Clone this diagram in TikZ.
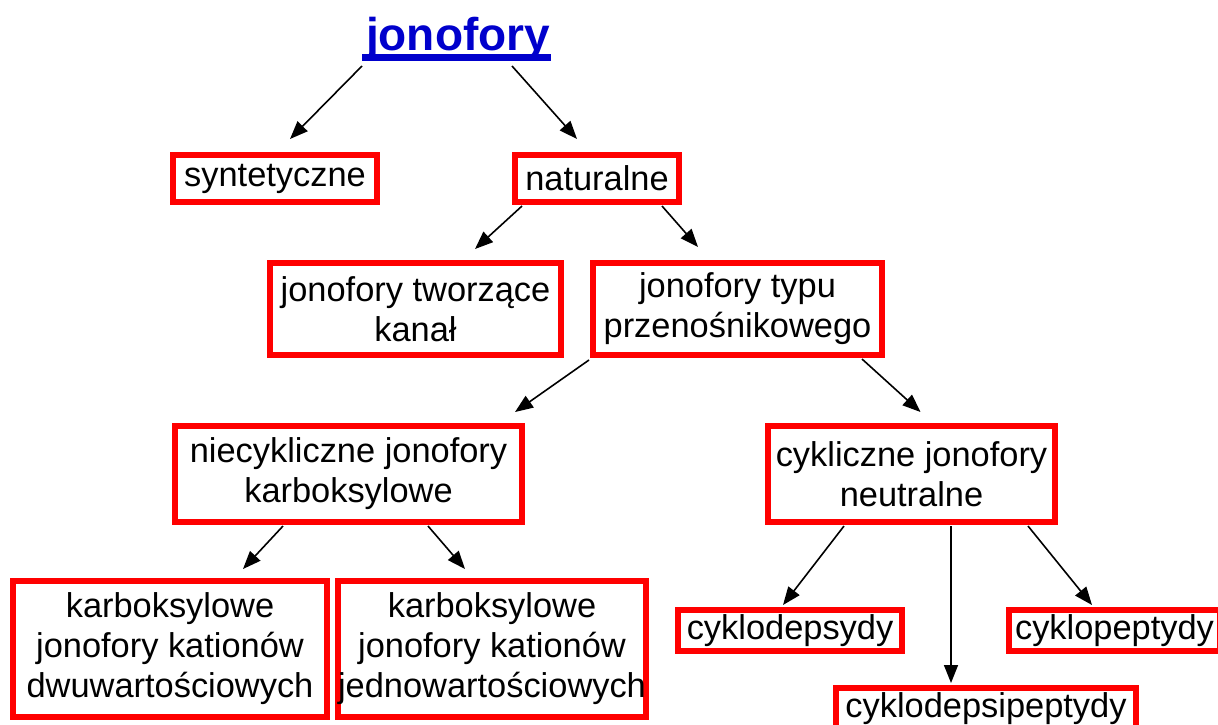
\documentclass[tikz,border=0pt]{standalone}
\usepackage{fontspec}
\setmainfont{Liberation Sans}
\usepackage{xcolor}
\usepackage{tikz}
\usetikzlibrary{arrows.meta,calc}
\definecolor{jonoblue}{RGB}{0,0,204}
\definecolor{jonored}{RGB}{255,0,0}

\begin{document}
\begin{tikzpicture}[x=0.5pt,y=-0.5pt,
    box/.style={draw=jonored,line width=3pt,fill=white,inner sep=0pt,align=center,
        font=\fontsize{17.2}{20}\selectfont},
    arr/.style={-{Triangle[length=9pt,width=7pt]},line width=0.8pt}]
        \useasboundingbox (0,0) rectangle (1218,724);

        % Title
        \node[inner sep=0pt,anchor=base,text=jonoblue,font=\fontsize{23}{27}\selectfont\bfseries] (title) at (458,50) {jonofory};
        \fill[jonoblue] ($(title.base west)+(-4,4)$) rectangle ($(title.base east)+(1,11)$);

        % Level 1
        \node[box,minimum width=102pt,minimum height=23.5pt] (synt) at (275,178.5) {syntetyczne};
        \node[box,minimum width=82pt,minimum height=23.5pt] (nat) at (597,178.5) {naturalne};

        % Level 2
        \node[box,minimum width=145.5pt,minimum height=46pt] (kanal) at (415.5,309) {jonofory tworzące\\kanał};
        \node[box,minimum width=144.5pt,minimum height=46pt] (typu) at (737.5,309) {jonofory typu\\przenośnikowego};

        % Level 3
        \node[box,minimum width=173.5pt,minimum height=48pt] (niecykl) at (348.5,474) {niecykliczne jonofory\\karboksylowe};
        \node[box,minimum width=143.5pt,minimum height=48pt] (cykl) at (911.5,474) {cykliczne jonofory\\neutralne};

        % Level 4
        \node[box,minimum width=157pt,minimum height=68pt] (dwu) at (170,649) {karboksylowe\\jonofory kationów\\dwuwartościowych};
        \node[box,minimum width=153pt,minimum height=68pt] (jedno) at (492,649) {karboksylowe\\jonofory kationów\\jednowartościowych};
        \node[box,minimum width=112pt,minimum height=20.5pt] (cdeps) at (790,630.5) {cyklodepsydy};
        \node[box,minimum width=105.5pt,minimum height=20.5pt] (cpept) at (1114.5,630.5) {cyklopeptydy};
        \node[box,minimum width=150pt,minimum height=21pt] (cdpept) at (986,709) {cyklodepsipeptydy};

        % Arrows
        \coordinate (cdtop) at ($(cykl.south)+(39.5,1)$);
        \draw[arr] ($(title.base)+(-96,16)$) -- ($(synt.north)+(15,-13)$);
        \draw[arr] ($(title.base)+(54,16)$) -- ($(nat.north)+(-20,-13)$);
        \draw[arr] ($(nat.south)+(-75,1)$) -- ($(kanal.north)+(59.5,-11)$);
        \draw[arr] ($(nat.south)+(65,1)$) -- ($(typu.north)+(-39.5,-13)$);
        \draw[arr] ($(typu.south west)+(-1,2)$) -- ($(niecykl.north)+(166.5,-11)$);
        \draw[arr] ($(typu.south)+(124.5,1)$) -- ($(cykl.north)+(9,-11)$);
        \draw[arr] ($(niecykl.south)+(-65.5,1)$) -- ($(dwu.north)+(73,-9)$);
        \draw[arr] ($(niecykl.south)+(79.5,1)$) -- ($(jedno.north)+(-27,-9)$);
        \draw[arr] ($(cykl.south)+(-67.5,1)$) -- ($(cdeps.north west)+(108,-2)$);
        \draw[arr,shorten >=1pt] (cdtop) -- (cdtop |- cdpept.north);
        \draw[arr] ($(cykl.south)+(116.5,1)$) -- ($(cpept.north west)+(86,-2)$);
    \end{tikzpicture}
\end{document}
